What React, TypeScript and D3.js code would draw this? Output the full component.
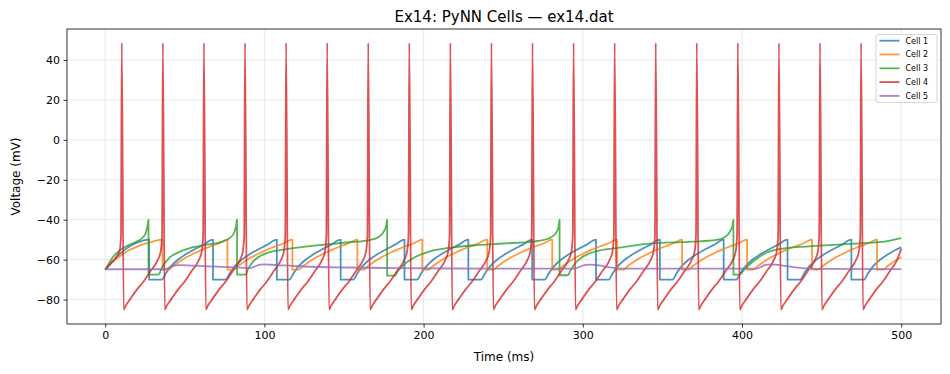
import { useEffect, useRef } from "react";
import * as d3 from "d3";

type Pt = [number, number];

const title = "Ex14: PyNN Cells — ex14.dat";
const xLabel = "Time (ms)";
const yLabel = "Voltage (mV)";
const cellNames = ["Cell 1", "Cell 2", "Cell 3", "Cell 4", "Cell 5"];
const xTicks = [0, 100, 200, 300, 400, 500];
const yTicks = [-80, -60, -40, -20, 0, 20, 40];

// traces: [time ms, voltage mV]
const cell1: Pt[] = [
  [0, -65], [4, -61.5], [9.4, -57], [15, -53.5], [20, -51.5], [27.6, -50],
  [27.6, -70], [35.6, -70], [38.1, -66.8], [41.1, -63.5], [45.6, -60], [50.6, -57.3], [55.6, -55], [61.6, -52.6], [67.7, -50],
  [67.7, -70], [75.7, -70], [78.2, -66.8], [81.2, -63.5], [85.7, -60], [90.7, -57.3], [95.7, -55], [101.7, -52.6], [107.8, -50],
  [107.8, -70], [115.8, -70], [118.3, -66.8], [121.3, -63.5], [125.8, -60], [130.8, -57.3], [135.8, -55], [141.8, -52.6], [147.9, -50],
  [147.9, -70], [155.9, -70], [158.4, -66.8], [161.4, -63.5], [165.9, -60], [170.9, -57.3], [175.9, -55], [181.9, -52.6], [188, -50],
  [188, -70], [196, -70], [198.5, -66.8], [201.5, -63.5], [206, -60], [211, -57.3], [216, -55], [222, -52.6], [228.1, -50],
  [228.1, -70], [236.1, -70], [238.6, -66.8], [241.6, -63.5], [246.1, -60], [251.1, -57.3], [256.1, -55], [262.1, -52.6], [268.2, -50],
  [268.2, -70], [276.2, -70], [278.7, -66.8], [281.7, -63.5], [286.2, -60], [291.2, -57.3], [296.2, -55], [302.2, -52.6], [308.3, -50],
  [308.3, -70], [316.3, -70], [318.8, -66.8], [321.8, -63.5], [326.3, -60], [331.3, -57.3], [336.3, -55], [342.3, -52.6], [348.4, -50],
  [348.4, -70], [356.4, -70], [358.9, -66.8], [361.9, -63.5], [366.4, -60], [371.4, -57.3], [376.4, -55], [382.4, -52.6], [388.5, -50],
  [388.5, -70], [396.5, -70], [399, -66.8], [402, -63.5], [406.5, -60], [411.5, -57.3], [416.5, -55], [422.5, -52.6], [428.6, -50],
  [428.6, -70], [436.6, -70], [439.1, -66.8], [442.1, -63.5], [446.6, -60], [451.6, -57.3], [456.6, -55], [462.6, -52.6], [468.7, -50],
  [468.7, -70], [476.7, -70], [479.2, -66.8], [482.2, -63.5], [486.7, -60], [491.7, -57.3], [496.7, -55], [500, -53.8],
];

const cell2: Pt[] = [
  [0, -65], [4, -61.5], [9.4, -58.2], [15, -55.3], [20, -53.5], [25, -52], [30, -50.9], [36, -50],
  [36, -65], [40, -65], [42.5, -63.3], [46, -61.3], [51, -58.8], [56, -56.8], [61, -55], [66, -53.4], [71, -51.9], [76.8, -50],
  [76.8, -65], [80.8, -65], [83.3, -63.3], [86.8, -61.3], [91.8, -58.8], [96.8, -56.8], [101.8, -55], [106.8, -53.4], [111.8, -51.9], [117.6, -50],
  [117.6, -65], [121.6, -65], [124.1, -63.3], [127.6, -61.3], [132.6, -58.8], [137.6, -56.8], [142.6, -55], [147.6, -53.4], [152.6, -51.9], [158.4, -50],
  [158.4, -65], [162.4, -65], [164.9, -63.3], [168.4, -61.3], [173.4, -58.8], [178.4, -56.8], [183.4, -55], [188.4, -53.4], [193.4, -51.9], [199.2, -50],
  [199.2, -65], [203.2, -65], [205.7, -63.3], [209.2, -61.3], [214.2, -58.8], [219.2, -56.8], [224.2, -55], [229.2, -53.4], [234.2, -51.9], [240, -50],
  [240, -65], [244, -65], [246.5, -63.3], [250, -61.3], [255, -58.8], [260, -56.8], [265, -55], [270, -53.4], [275, -51.9], [280.8, -50],
  [280.8, -65], [284.8, -65], [287.3, -63.3], [290.8, -61.3], [295.8, -58.8], [300.8, -56.8], [305.8, -55], [310.8, -53.4], [315.8, -51.9], [321.6, -50],
  [321.6, -65], [325.6, -65], [328.1, -63.3], [331.6, -61.3], [336.6, -58.8], [341.6, -56.8], [346.6, -55], [351.6, -53.4], [356.6, -51.9], [362.4, -50],
  [362.4, -65], [366.4, -65], [368.9, -63.3], [372.4, -61.3], [377.4, -58.8], [382.4, -56.8], [387.4, -55], [392.4, -53.4], [397.4, -51.9], [403.2, -50],
  [403.2, -65], [407.2, -65], [409.7, -63.3], [413.2, -61.3], [418.2, -58.8], [423.2, -56.8], [428.2, -55], [433.2, -53.4], [438.2, -51.9], [444, -50],
  [444, -65], [448, -65], [450.5, -63.3], [454, -61.3], [459, -58.8], [464, -56.8], [469, -55], [474, -53.4], [479, -51.9], [484.8, -50],
  [484.8, -65], [488.8, -65], [491.3, -63.3], [494.8, -61.3], [500, -58.7],
];

const cell3: Pt[] = [
  [0, -65], [5, -58.5], [9.4, -55.2], [15, -52.6], [20, -50.8], [23.5, -49], [25.5, -46.5], [26.6, -43], [27.2, -40],
  [27.2, -67.5], [33.5, -67.5], [35.5, -64.2], [37.6, -61.6], [41, -58.6], [45, -56.7], [53.3, -54.2], [63.8, -52.5], [74.2, -50.8], [78.5, -49], [81, -46.5], [82.2, -43], [82.8, -40],
  [82.8, -67.5], [88, -67.5], [90, -64.2], [93, -60.8], [97, -58.3], [101.4, -56.7], [112, -55], [128.6, -53.2], [151.6, -51.4], [166, -50.2], [172, -48.5], [175.3, -45.5], [176.5, -43], [177.1, -40],
  [177.1, -68], [182, -68], [184, -65.5], [187, -63], [193.5, -59.2], [204, -55.8], [214.5, -54.2], [235, -52.6], [250, -51.9], [270, -50.8], [278.5, -49.4], [282.5, -47.3], [284.6, -44], [285.4, -40],
  [285.4, -67.8], [290.5, -67.8], [292.5, -65], [294.5, -62.5], [300, -58.5], [308.4, -55.8], [321, -54.2], [342, -52], [369, -51], [384, -50.1], [389.5, -48.5], [392.8, -45.5], [394, -43], [394.6, -40],
  [394.6, -67.5], [398.4, -67.5], [400.5, -65.8], [402.6, -64], [411, -58.5], [421.4, -55], [442.3, -53.3], [473.7, -51.8], [490.4, -50.8], [500, -49.2],
];

const cell4: Pt[] = [
  [0, -65], [4, -61.5], [7.5, -58], [9.2, -55], [9.9, -48],
  [10.4, 48.5], [11.6, -85], [12.9, -83], [15.9, -79.5], [19.9, -75], [24.2, -70.8], [28.4, -65.8], [32.6, -60.8], [34.8, -56], [35.7, -48],
  [36.2, 48.5], [37.4, -85], [38.7, -83], [41.7, -79.5], [45.7, -75], [50, -70.8], [54.2, -65.8], [58.4, -60.8], [60.6, -56], [61.5, -48],
  [62, 48.5], [63.2, -85], [64.5, -83], [67.5, -79.5], [71.5, -75], [75.8, -70.8], [80, -65.8], [84.2, -60.8], [86.4, -56], [87.3, -48],
  [87.8, 48.5], [89, -85], [90.3, -83], [93.3, -79.5], [97.3, -75], [101.6, -70.8], [105.8, -65.8], [110, -60.8], [112.2, -56], [113.1, -48],
  [113.6, 48.5], [114.8, -85], [116.1, -83], [119.1, -79.5], [123.1, -75], [127.4, -70.8], [131.6, -65.8], [135.8, -60.8], [138, -56], [138.9, -48],
  [139.4, 48.5], [140.6, -85], [141.9, -83], [144.9, -79.5], [148.9, -75], [153.2, -70.8], [157.4, -65.8], [161.6, -60.8], [163.8, -56], [164.7, -48],
  [165.2, 48.5], [166.4, -85], [167.7, -83], [170.7, -79.5], [174.7, -75], [179, -70.8], [183.2, -65.8], [187.4, -60.8], [189.6, -56], [190.5, -48],
  [191, 48.5], [192.2, -85], [193.5, -83], [196.5, -79.5], [200.5, -75], [204.8, -70.8], [209, -65.8], [213.2, -60.8], [215.4, -56], [216.3, -48],
  [216.8, 48.5], [218, -85], [219.3, -83], [222.3, -79.5], [226.3, -75], [230.6, -70.8], [234.8, -65.8], [239, -60.8], [241.2, -56], [242.1, -48],
  [242.6, 48.5], [243.8, -85], [245.1, -83], [248.1, -79.5], [252.1, -75], [256.4, -70.8], [260.6, -65.8], [264.8, -60.8], [267, -56], [267.9, -48],
  [268.4, 48.5], [269.6, -85], [270.9, -83], [273.9, -79.5], [277.9, -75], [282.2, -70.8], [286.4, -65.8], [290.6, -60.8], [292.8, -56], [293.7, -48],
  [294.2, 48.5], [295.4, -85], [296.7, -83], [299.7, -79.5], [303.7, -75], [308, -70.8], [312.2, -65.8], [316.4, -60.8], [318.6, -56], [319.5, -48],
  [320, 48.5], [321.2, -85], [322.5, -83], [325.5, -79.5], [329.5, -75], [333.8, -70.8], [338, -65.8], [342.2, -60.8], [344.4, -56], [345.3, -48],
  [345.8, 48.5], [347, -85], [348.3, -83], [351.3, -79.5], [355.3, -75], [359.6, -70.8], [363.8, -65.8], [368, -60.8], [370.2, -56], [371.1, -48],
  [371.6, 48.5], [372.8, -85], [374.1, -83], [377.1, -79.5], [381.1, -75], [385.4, -70.8], [389.6, -65.8], [393.8, -60.8], [396, -56], [396.9, -48],
  [397.4, 48.5], [398.6, -85], [399.9, -83], [402.9, -79.5], [406.9, -75], [411.2, -70.8], [415.4, -65.8], [419.6, -60.8], [421.8, -56], [422.7, -48],
  [423.2, 48.5], [424.4, -85], [425.7, -83], [428.7, -79.5], [432.7, -75], [437, -70.8], [441.2, -65.8], [445.4, -60.8], [447.6, -56], [448.5, -48],
  [449, 48.5], [450.2, -85], [451.5, -83], [454.5, -79.5], [458.5, -75], [462.8, -70.8], [467, -65.8], [471.2, -60.8], [473.4, -56], [474.3, -48],
  [474.8, 48.5], [476, -85], [477.3, -83], [480.3, -79.5], [484.3, -75], [488.6, -70.8], [492.8, -65.8], [497, -60.8], [500, -54.5],
];

const cell5: Pt[] = [
  [0, -64.8], [37.5, -64.8], [39.5, -64.3], [41.5, -63.4], [44, -62.8], [47, -62.7], [55, -63], [70, -63.5], [85, -64], [91, -64.2],
  [93.5, -63.6], [96, -62.7], [99, -62.3], [108, -62.7], [125, -63.4], [150, -63.9], [180, -64.2], [220, -64.4], [260, -64.5], [295, -64.5],
  [297.5, -63.8], [300.5, -62.8], [304, -62.5], [309, -62.7], [315, -63.6], [322, -64.3], [335, -64.5], [409, -64.5],
  [411.5, -63.8], [414.5, -62.6], [418, -62.3], [424, -62.7], [432, -63.7], [440, -64.3], [455, -64.6], [500, -64.7],
];

const cells = [cell1, cell2, cell3, cell4, cell5];
const colors = ["#1f77b4", "#ff7f0e", "#2ca02c", "#d62728", "#9467bd"];

export default function App() {
  const svgRef = useRef<SVGSVGElement>(null);
  const width = 950;
  const height = 374;

  useEffect(() => {
    const svg = svgRef.current;
    if (!svg) return;
    const root = d3.select(svg);
    root.selectAll("*").remove();

    const left = 67, right = 941, top = 29, bottom = 324;
    const font = "DejaVu Sans, sans-serif";

    const x = d3.scaleLinear().domain([-24, 525]).range([left, right]);
    const y = d3.scaleLinear().domain([-92.2, 55.5]).range([bottom, top]);

    root.append("rect").attr("width", width).attr("height", height).attr("fill", "#fff");

    // grid
    const grid = root.append("g").attr("stroke", "#b0b0b0").attr("stroke-opacity", 0.35).attr("stroke-width", 0.8);
    grid.selectAll("line.gx").data(xTicks).join("line")
      .attr("class", "gx")
      .attr("x1", (d) => x(d)).attr("x2", (d) => x(d)).attr("y1", top).attr("y2", bottom);
    grid.selectAll("line.gy").data(yTicks).join("line")
      .attr("class", "gy")
      .attr("x1", left).attr("x2", right).attr("y1", (d) => y(d)).attr("y2", (d) => y(d));

    // traces
    const clip = root.append("clipPath").attr("id", "plot-clip");
    clip.append("rect").attr("x", left).attr("y", top).attr("width", right - left).attr("height", bottom - top);

    const line = d3.line<Pt>()
      .x((d) => x(d[0]))
      .y((d) => y(d[1]))
      .curve(d3.curveMonotoneX);

    const traces = root.append("g").attr("clip-path", "url(#plot-clip)");
    cells.forEach((data, i) => {
      traces.append("path")
        .datum(data)
        .attr("fill", "none")
        .attr("stroke", colors[i])
        .attr("stroke-width", 1.8)
        .attr("stroke-opacity", 0.8)
        .attr("stroke-linejoin", "round")
        .attr("d", line);
    });

    // axes
    const xAxis = root.append("g")
      .attr("transform", `translate(0,${bottom})`)
      .call(d3.axisBottom(x).tickValues(xTicks).tickFormat(d3.format("d")).tickSize(3.5).tickSizeOuter(0).tickPadding(3.5));
    const yAxis = root.append("g")
      .attr("transform", `translate(${left},0)`)
      .call(d3.axisLeft(y).tickValues(yTicks).tickFormat(d3.format("d")).tickSize(3.5).tickSizeOuter(0).tickPadding(3.5));
    [xAxis, yAxis].forEach((ax) => {
      ax.select(".domain").remove();
      ax.selectAll("line").attr("stroke", "#000").attr("stroke-width", 0.8);
      ax.selectAll("text").attr("font-family", font).attr("font-size", 11).attr("fill", "#000");
    });

    root.append("rect")
      .attr("x", left).attr("y", top).attr("width", right - left).attr("height", bottom - top)
      .attr("fill", "none").attr("stroke", "#000").attr("stroke-width", 0.8);

    root.append("text")
      .attr("x", (left + right) / 2).attr("y", 22)
      .attr("text-anchor", "middle").attr("font-family", font).attr("font-size", 15)
      .text(title);
    root.append("text")
      .attr("x", (left + right) / 2).attr("y", 361)
      .attr("text-anchor", "middle").attr("font-family", font).attr("font-size", 12)
      .text(xLabel);
    root.append("text")
      .attr("transform", `translate(20,${(top + bottom) / 2}) rotate(-90)`)
      .attr("text-anchor", "middle").attr("font-family", font).attr("font-size", 12)
      .text(yLabel);

    // legend
    const lg = root.append("g").attr("transform", "translate(876,34.5)");
    lg.append("rect")
      .attr("width", 61).attr("height", 68).attr("rx", 2)
      .attr("fill", "#fff").attr("fill-opacity", 0.8)
      .attr("stroke", "#cccccc").attr("stroke-width", 0.8);
    const items = lg.selectAll("g.item").data(cellNames).join("g")
      .attr("class", "item")
      .attr("transform", (_, i) => `translate(0,${6.2 + i * 13.8})`);
    items.append("line")
      .attr("x1", 3.5).attr("x2", 23.5)
      .attr("stroke", (_, i) => colors[i]).attr("stroke-width", 1.8).attr("stroke-opacity", 0.8);
    items.append("text")
      .attr("x", 29.5).attr("dy", "0.35em")
      .attr("font-family", font).attr("font-size", 8)
      .text((d) => d);
  }, []);

  return (
    <svg
      ref={svgRef}
      width={width}
      height={height}
      style={{ position: "absolute", left: 0, top: 0, display: "block" }}
    />
  );
}
